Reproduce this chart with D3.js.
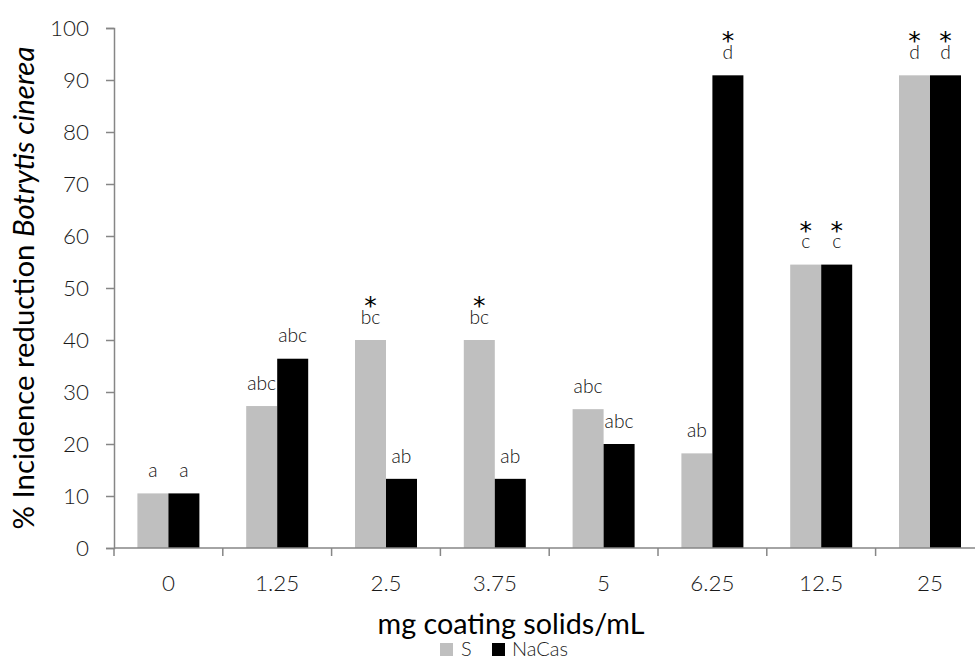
<!DOCTYPE html>
<html>
<head>
<meta charset="utf-8">
<script src="https://cdn.jsdelivr.net/npm/d3@7/dist/d3.min.js"></script>
<style>
  html, body { margin: 0; padding: 0; background: #fff; }
  svg { display: block; }
  text { font-family: "Lato", "Open Sans", sans-serif; fill: #1a1a1a; }
</style>
</head>
<body>
<svg id="chart" width="975" height="662"></svg>
<script>
const categories = ["0", "1.25", "2.5", "3.75", "5", "6.25", "12.5", "25"];
const seriesNames = ["S", "NaCas"];
const sValues = [10.5, 27.3, 40, 40, 26.7, 18.2, 54.5, 90.9];
const nacasValues = [10.5, 36.4, 13.3, 13.3, 20, 90.9, 54.5, 90.9];
const sLetters = ["a", "abc", "bc", "bc", "abc", "ab", "c", "d"];
const nacasLetters = ["a", "abc", "ab", "ab", "abc", "d", "c", "d"];
const sStars = [false, false, true, true, false, false, true, true];
const nacasStars = [false, false, false, false, false, true, true, true];
const yTicks = [0, 10, 20, 30, 40, 50, 60, 70, 80, 90, 100];
const seriesColors = ["#bfbfbf", "#000000"];

(function () {
const svg = d3.select("#chart");
const mLeft = 114, mBottom = 548, mTop = 28, step = 108.8;

function fitSize(textSel, target) {
  const w = textSel.node().getComputedTextLength();
  const fs = parseFloat(textSel.style("font-size"));
  return fs * target / w;
}

const x = d3.scaleBand().domain(categories).range([mLeft, mLeft + step * categories.length]).padding(0);
const bw = x.bandwidth();
const barW = 31;
const xs = d3.scaleBand().domain(seriesNames).range([bw / 2 - barW, bw / 2 + barW]).padding(0);
const y = d3.scaleLinear().domain([0, 100]).range([mBottom, mTop]);
const color = d3.scaleOrdinal().domain(seriesNames).range(seriesColors);

const rows = categories.map((c, i) => ({
  cat: c,
  vals: [
    { s: "S", v: sValues[i], l: sLetters[i], star: sStars[i] },
    { s: "NaCas", v: nacasValues[i], l: nacasLetters[i], star: nacasStars[i] }
  ]
}));

const g = svg.append("g");
const groups = g.selectAll("g.cat").data(rows).join("g")
  .attr("class", "cat")
  .attr("transform", d => `translate(${x(d.cat)},0)`);
groups.selectAll("rect").data(d => d.vals).join("rect")
  .attr("x", d => xs(d.s))
  .attr("width", xs.bandwidth())
  .attr("y", d => y(d.v))
  .attr("height", d => y(0) - y(d.v))
  .attr("fill", d => color(d.s));

const probe = svg.append("text").style("font-size", "17px").style("font-weight", 300).text("abc");
const letterFs = fitSize(probe, 29);
probe.remove();

const labels = groups.selectAll("text.letter").data(d => d.vals).join("text")
  .attr("class", "letter")
  .attr("text-anchor", "middle");
labels.each(function (d) {
  const t = d3.select(this);
  const cx = xs(d.s) + xs.bandwidth() / 2;
  if (d.star) {
    t.append("tspan")
      .attr("x", cx).attr("y", y(d.v) - 44).attr("dy", "0.72em")
      .style("font-size", "25px").style("font-family", "DejaVu Sans").style("fill", "#000")
      .text("*");
  }
  t.append("tspan")
    .attr("x", cx).attr("y", y(d.v) - 23).attr("dy", "0.35em")
    .style("font-size", letterFs + "px").style("font-weight", 300).style("fill", "#111")
    .text(d.l);
});

const yAxis = svg.append("g")
  .attr("transform", `translate(${mLeft},0)`)
  .call(d3.axisLeft(y).tickValues(yTicks).tickSize(8).tickPadding(17));
yAxis.select(".domain").attr("stroke", "#868686").attr("stroke-width", 1.5);
yAxis.selectAll(".tick line").attr("stroke", "#868686").attr("stroke-width", 1.5);
const yTickText = yAxis.selectAll(".tick text")
  .style("font-size", "20px").style("font-weight", 300)
  .style("font-family", "Lato, 'Open Sans', sans-serif").attr("fill", "#222");
const tickFs = fitSize(yTickText.filter(d => d === 100), 39);
yTickText.style("font-size", tickFs + "px");

const xAxis = svg.append("g");
xAxis.append("line")
  .attr("x1", mLeft).attr("x2", x.range()[1])
  .attr("y1", mBottom).attr("y2", mBottom)
  .attr("stroke", "#868686").attr("stroke-width", 1.5);
const bounds = categories.map(c => x(c)).concat([x.range()[1]]);
xAxis.selectAll("line.tick").data(bounds).join("line")
  .attr("class", "tick")
  .attr("x1", d => d).attr("x2", d => d)
  .attr("y1", mBottom).attr("y2", mBottom + 8)
  .attr("stroke", "#868686").attr("stroke-width", 1.5);
xAxis.selectAll("text").data(categories).join("text")
  .attr("x", d => x(d) + bw / 2)
  .attr("y", 583)
  .attr("dy", "0.35em")
  .attr("text-anchor", "middle")
  .attr("fill", "#222")
  .style("font-size", tickFs + "px").style("font-weight", 300)
  .text(d => d);

const xt = svg.append("text")
  .attr("x", 511).attr("y", 624).attr("dy", "0.35em")
  .attr("text-anchor", "middle")
  .style("font-size", "26px").style("fill", "#000")
  .text("mg coating solids/mL");
xt.style("font-size", fitSize(xt, 267) + "px");

const yt = svg.append("text")
  .attr("transform", "translate(24,288) rotate(-90)")
  .attr("dy", "0.35em")
  .attr("text-anchor", "middle")
  .style("font-size", "26px").style("fill", "#000");
yt.append("tspan").text("% Incidence reduction ");
yt.append("tspan").style("font-style", "italic").text("Botrytis cinerea");
yt.style("font-size", fitSize(yt, 483) + "px");

const legendItems = [
  { name: seriesNames[0], rx: 440, tx: 461 },
  { name: seriesNames[1], rx: 492, tx: 512 }
];
const legend = svg.append("g").attr("transform", "translate(0,649)");
legend.selectAll("rect").data(legendItems).join("rect")
  .attr("x", d => d.rx).attr("y", -6).attr("width", 13).attr("height", 13)
  .attr("fill", d => color(d.name));
const lt = legend.selectAll("text").data(legendItems).join("text")
  .attr("x", d => d.tx).attr("y", 0).attr("dy", "0.35em")
  .attr("fill", "#222")
  .style("font-size", "20px").style("font-weight", 300)
  .text(d => d.name);
const legFs = Math.min(fitSize(lt.filter(d => d.name === "NaCas"), 64), 20);
lt.style("font-size", legFs + "px");
})();
</script>
</body>
</html>
